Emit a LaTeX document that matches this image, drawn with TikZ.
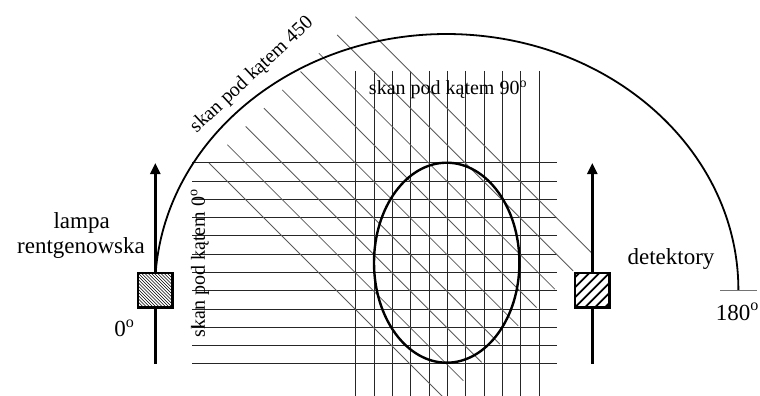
\documentclass[tikz,border=0pt]{standalone}
\usepackage{fontspec}
\setmainfont{Liberation Serif}
\usetikzlibrary{arrows.meta,shapes.geometric}
\begin{document}
\begin{tikzpicture}[x=1pt,y=-1pt,
  gridline/.style={black!85, line width=0.9pt},
  diagline/.style={black!65, line width=0.8pt},
  axisline/.style={line width=2.4pt},
  arcline/.style={line width=1.8pt},
  bodyline/.style={line width=2.4pt},
  tickline/.style={black!55, line width=1pt},
  boxstyle/.style={draw, line width=2.6pt, minimum size=34.4pt, inner sep=0pt, fill=white},
  biglabel/.style={font=\fontsize{23}{26}\selectfont, inner sep=0pt},
  scanlabel/.style={font=\fontsize{20}{24}\selectfont, inner sep=0pt},
]
\useasboundingbox (0,0) rectangle (760,396);

\begin{scope}
\clip (0,0) rectangle (760,396);
% horizontal scan (0 deg)
\foreach \i in {0,...,11}
  \draw[gridline] (192,{162.8+18.28*\i}) -- (557,{162.8+18.28*\i});
% vertical scan (90 deg)
\foreach \j in {0,...,10}
  \draw[gridline] ({355.7+18.35*\j},71) -- ({355.7+18.35*\j},396);
% diagonal scan (45 deg)
\foreach \k in {0,...,8}{
  \pgfmathsetmacro{\c}{-46-36.6*\k}
  \draw[diagline] ({(372-\c)/2},{(372+\c)/2}) -- ({(844-\c)/2},{(844+\c)/2});
}
\end{scope}

% object
\node[draw, bodyline, ellipse, minimum width=145.4pt, minimum height=200pt, inner sep=0pt] (body) at (446.7,262.7) {};

% rotation arc
\coordinate (arcstart) at (155.8,271);
\draw[arcline] (arcstart) arc[start angle=184.26, end angle=360, x radius=291.7, y radius=256] coordinate (arcend);
\coordinate (tickl) at (720,290);
\coordinate (tickr) at (757,290);
\draw[tickline] (tickl) -- (tickr);

% lamp
\coordinate (lamptop) at (155.3,163);
\coordinate (lampbot) at (155.3,363.5);
\draw[axisline] (lampbot) -- (155.3,290);
\node[boxstyle, path picture={
  \foreach \d in {-45,-41.8,...,45}
    \draw[line width=0.5pt] ([xshift=\d pt]path picture bounding box.center) ++(-25,-25) -- ++(50,50);
}] (lamp) at (155.3,290) {};
\draw[axisline, -{Triangle[length=11pt,width=10pt]}] (lamp.north) -- (lamptop);

% detector
\coordinate (dettop) at (592.3,163);
\coordinate (detbot) at (592.3,363.5);
\draw[axisline] (detbot) -- (592.3,290);
\node[boxstyle, path picture={
  \foreach \d in {-40,-30,...,40}
    \draw[line width=1.8pt] ([xshift=\d pt]path picture bounding box.center) ++(-25,25) -- ++(50,-50);
}] (det) at (592.3,290) {};
\draw[axisline, -{Triangle[length=11pt,width=10pt]}] (det.north) -- (dettop);

% labels
\node[biglabel, anchor=base] (lampa) at (81.7,228.3) {lampa};
\node[biglabel, anchor=base] (rentgen) at (81,253.5) {rentgenowska};
\node[biglabel, anchor=base] (zero) at (124.5,336.7) {0\textsuperscript{o}};
\node[biglabel, anchor=base] (detekt) at (671,264) {detektory};
\node[biglabel, anchor=base] (oneeighty) at (737.5,320) {180\textsuperscript{o}};

\node[scanlabel] (scan90) at (448,90) {skan pod kątem 90\textsuperscript{o}};
\node[scanlabel, rotate=90] (scan0) at (200,263.5) {skan pod kątem 0\textsuperscript{o}};
\node[scanlabel, rotate=43] (scan45) at (252,75) {skan pod kątem 450};
\end{tikzpicture}
\end{document}
